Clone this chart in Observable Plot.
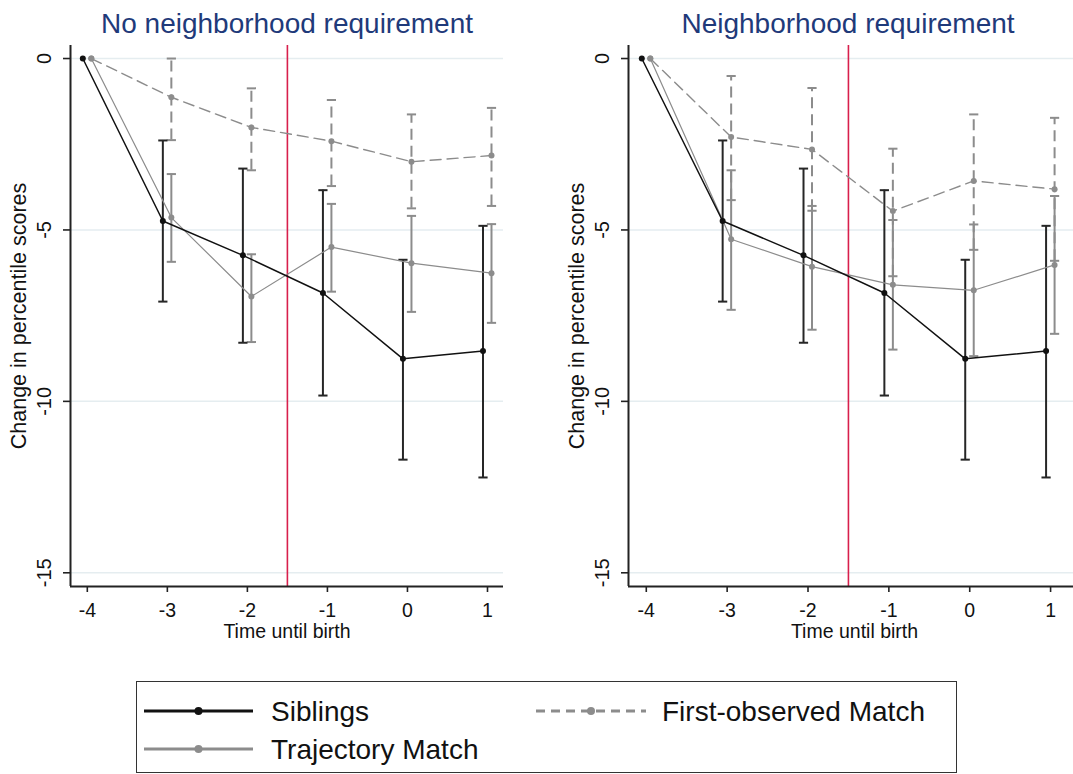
<!DOCTYPE html>
<html>
<head>
<meta charset="utf-8">
<script src="https://cdn.jsdelivr.net/npm/d3@7"></script>
<script src="https://cdn.jsdelivr.net/npm/@observablehq/plot@0.6"></script>
<style>
  html, body { margin: 0; padding: 0; background: #fff; }
  body { width: 1073px; height: 774px; overflow: hidden; position: relative; font-family: "Liberation Sans", Arial, sans-serif; }
  .panel { position: absolute; top: 0; }
  .panel svg { max-width: none !important; display: block; }
  #left { width: 540px; }
  #right { width: 545px; }
  #legend { position: absolute; left: 136px; top: 681px; width: 819px; height: 90px; border: 1.5px solid #333; box-sizing: content-box; }
  .lg-item { position: absolute; font-size: 28px; color: #111; line-height: 1; white-space: nowrap; }
  .lg-item svg { position: absolute; }
</style>
</head>
<body>
<div id="left" class="panel" style="left:0px"></div>
<div id="right" class="panel" style="left:540px"></div>
<div id="legend"></div>
<script>
// ---------- data ----------
const times = [-4, -3, -2, -1, 0, 1];
const xTicks = [-4, -3, -2, -1, 0, 1];
const yTicks = [0, -5, -10, -15];
const birthLine = [-1.5];
const panelTitles = ["No neighborhood requirement", "Neighborhood requirement"];
const xTitle = "Time until birth";
const yTitle = "Change in percentile scores";
const seriesNames = ["Siblings", "Trajectory Match", "First-observed Match"];

// Siblings (same in both panels)
const sibEst = [0, -4.74, -5.74, -6.84, -8.76, -8.53];
const sibHi  = [null, -2.39, -3.21, -3.84, -5.87, -4.88];
const sibLo  = [null, -7.09, -8.29, -9.83, -11.70, -12.22];

// Trajectory Match
const trajEstNo = [0, -4.64, -6.94, -5.50, -5.97, -6.26];
const trajHiNo  = [null, -3.37, -5.71, -4.24, -4.59, -4.83];
const trajLoNo  = [null, -5.93, -8.27, -6.80, -7.39, -7.71];
const trajEstNb = [0, -5.27, -6.07, -6.60, -6.76, -6.02];
const trajHiNb  = [null, -3.26, -4.30, -4.71, -4.84, -4.01];
const trajLoNb  = [null, -7.33, -7.91, -8.49, -8.68, -8.03];

// First-observed Match
const foEstNo = [0, -1.13, -2.01, -2.41, -3.01, -2.83];
const foHiNo  = [null, 0.0, -0.87, -1.21, -1.63, -1.44];
const foLoNo  = [null, -2.38, -3.26, -3.72, -4.37, -4.30];
const foEstNb = [0, -2.29, -2.65, -4.45, -3.57, -3.81];
const foHiNb  = [null, -0.51, -0.86, -2.63, -1.63, -1.73];
const foLoNb  = [null, -4.13, -4.44, -6.35, -5.58, -5.90];

// ---------- helpers ----------
const FONT = '"Liberation Sans", Arial, sans-serif';
const BLACK = "#111";
const CIBLACK = "#262626";
const GRAY = "#8c8c8c";
const RED = "#d81f4c";
const GRID = "#e5edf0";
const TITLE = "#1f3a7a";
const DASH = "11,6";

const capSymbol = {
  draw(ctx, size) {
    const r = Math.sqrt(size / Math.PI);
    ctx.moveTo(-r, 0);
    ctx.lineTo(r, 0);
  }
};

function table(est, lo, hi) {
  return times.map((t, i) => ({t, est: est[i], lo: lo[i], hi: hi[i]}));
}
function caps(rows) {
  return rows.filter(d => d.lo != null).flatMap(d => [{t: d.t, v: d.lo}, {t: d.t, v: d.hi}]);
}

function seriesMarks(rows, {dx, ciColor, dash}) {
  const ci = rows.filter(d => d.lo != null);
  return [
    Plot.ruleX(ci, {x: "t", y1: "lo", y2: "hi", dx, stroke: ciColor, strokeWidth: 2, strokeDasharray: dash}),
    Plot.dot(caps(rows), {x: "t", y: "v", dx, symbol: capSymbol, r: 4.6, fill: "none", stroke: ciColor, strokeWidth: 2})
  ];
}
function lineMarks(rows, {dx, color, lineWidth, dash}) {
  return [
    Plot.line(rows, {x: "t", y: "est", dx, stroke: color, strokeWidth: lineWidth, strokeDasharray: dash}),
    Plot.dot(rows, {x: "t", y: "est", dx, r: 3, fill: color, stroke: "none"})
  ];
}

function panel({title, width, marginLeft, marginRight, xDomain, titleDx, traj, fo}) {
  const sib = table(sibEst, sibLo, sibHi);
  const sSib = {dx: -4.5, color: BLACK, ciColor: CIBLACK, lineWidth: 1.5, dash: null};
  const sTraj = {dx: 4, color: GRAY, ciColor: GRAY, lineWidth: 1.2, dash: null};
  const sFo = {dx: 4, color: GRAY, ciColor: GRAY, lineWidth: 1.4, dash: DASH};
  const yDomain = [-15.4, 0.38];
  return Plot.plot({
    width, height: 650,
    marginLeft, marginRight, marginTop: 45, marginBottom: 64,
    x: {domain: xDomain, label: null},
    y: {domain: yDomain, label: null},
    style: {fontFamily: FONT, background: "transparent", overflow: "visible", color: BLACK},
    marks: [
      Plot.gridY(yTicks, {stroke: GRID, strokeOpacity: 1, strokeWidth: 1.5}),
      Plot.ruleX(birthLine, {stroke: RED, strokeWidth: 1.6}),
      ...seriesMarks(fo, sFo),
      ...seriesMarks(traj, sTraj),
      ...seriesMarks(sib, sSib),
      ...lineMarks(fo, sFo),
      ...lineMarks(traj, sTraj),
      ...lineMarks(sib, sSib),
      Plot.ruleX([xDomain[0]], {stroke: "#222", strokeWidth: 2}),
      Plot.ruleY([yDomain[0]], {stroke: "#222", strokeWidth: 2}),
      Plot.axisY(yTicks, {tickSize: 7, tickFormat: () => "", label: null, stroke: "#222", strokeWidth: 1.6}),
      Plot.text(yTicks, {y: d => d, text: d => String(d), frameAnchor: "left", dx: -26, rotate: -90,
        textAnchor: "middle", lineAnchor: "middle", fontSize: 20, fill: BLACK}),
      Plot.axisX(xTicks, {tickSize: 6, tickPadding: 11, fontSize: 19.5, label: null, stroke: "#222", strokeWidth: 1.6,
        fill: BLACK, tickFormat: d => String(d)}),
      Plot.text([xTitle], {text: d => d, frameAnchor: "bottom", dy: 45.5, lineAnchor: "middle", fontSize: 19.5, fill: BLACK}),
      Plot.text([yTitle], {text: d => d, frameAnchor: "left", dx: -51, rotate: -90, textAnchor: "middle",
        lineAnchor: "middle", fontSize: 21.5, fill: BLACK}),
      Plot.text([title], {text: d => d, frameAnchor: "top", dy: -21, dx: titleDx, lineAnchor: "middle", fontSize: 28, fill: TITLE})
    ]
  });
}

document.getElementById("left").append(panel({
  title: panelTitles[0], width: 540, marginLeft: 70, marginRight: 37, xDomain: [-4.21, 1.2], titleDx: 0,
  traj: table(trajEstNo, trajLoNo, trajHiNo), fo: table(foEstNo, foLoNo, foHiNo)
}));
document.getElementById("right").append(panel({
  title: panelTitles[1], width: 545, marginLeft: 88, marginRight: 5, xDomain: [-4.22, 1.37], titleDx: -6.5,
  traj: table(trajEstNb, trajLoNb, trajHiNb), fo: table(foEstNb, foLoNb, foHiNb)
}));

// ---------- legend ----------
const legend = document.getElementById("legend");
const legendItems = [
  {name: seriesNames[0], color: BLACK, dash: null, left: 7, top: 29, sampleW: 109, textGap: 18},
  {name: seriesNames[1], color: GRAY, dash: null, left: 7, top: 67, sampleW: 109, textGap: 18},
  {name: seriesNames[2], color: GRAY, dash: "9,6", left: 399, top: 29, sampleW: 110, textGap: 16}
];
legendItems.forEach(it => {
  const div = document.createElement("div");
  div.className = "lg-item";
  div.style.left = it.left + "px";
  div.style.top = (it.top - 16) + "px";
  div.style.height = "32px";
  const svg = d3.create("svg").attr("width", it.sampleW).attr("height", 12)
    .style("left", "0px").style("top", "10px");
  svg.append("line").attr("x1", 0).attr("x2", it.sampleW).attr("y1", 6).attr("y2", 6)
    .attr("stroke", it.color).attr("stroke-width", 3).attr("stroke-dasharray", it.dash);
  svg.append("circle").attr("cx", it.sampleW / 2).attr("cy", 6).attr("r", 4).attr("fill", it.color);
  div.append(svg.node());
  const span = document.createElement("span");
  span.textContent = it.name;
  span.style.position = "absolute";
  span.style.left = (it.sampleW + it.textGap) + "px";
  span.style.top = "3px";
  div.append(span);
  legend.append(div);
});
</script>
</body>
</html>
